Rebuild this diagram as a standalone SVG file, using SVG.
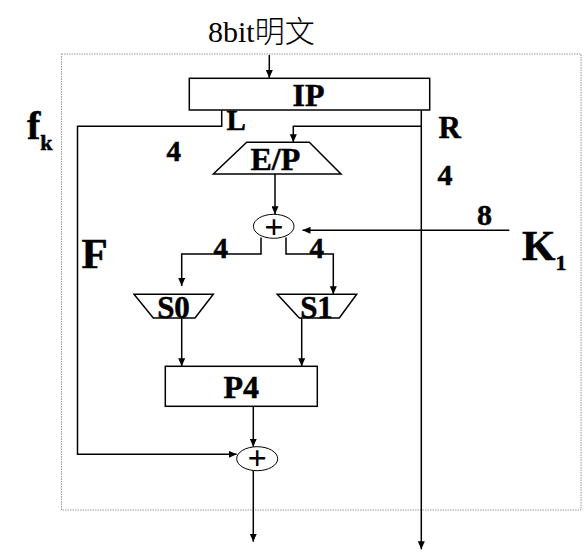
<svg xmlns="http://www.w3.org/2000/svg" width="586" height="559" viewBox="0 0 586 559">
<style>
.t{font-family:"Liberation Serif","Times New Roman",serif;font-weight:bold;fill:#000;stroke:#000;stroke-width:0.5}
.box{fill:#fff;stroke:#000;stroke-width:1.5}
.xor{fill:#fff;stroke:#000;stroke-width:1}
.ln{fill:none;stroke:#000;stroke-width:1.5}
.plus{font-family:"Liberation Serif","Times New Roman",serif;font-weight:bold;font-size:34px;fill:#000}
</style>
<defs>
<marker id="ah" viewBox="0 0 8 7" refX="8" refY="3.5" markerWidth="8" markerHeight="7" markerUnits="userSpaceOnUse" orient="auto">
<path d="M0,0 L8,3.5 L0,7 z" fill="#000"/>
</marker>
</defs>
<rect width="586" height="559" fill="#fff"/>
<g id="frame">
<rect x="61.5" y="54" width="519.5" height="456" fill="none" stroke="#999" stroke-width="1" stroke-dasharray="1.5,1"/>
</g>
<g id="connectors">
<path class="ln" d="M269.3,55 V78" marker-end="url(#ah)"/>
<path class="ln" d="M221.7,110 V126.3 H77.5 V454.3 H236.7" marker-end="url(#ah)"/>
<path class="ln" d="M421.3,110 V549.3" marker-end="url(#ah)"/>
<path class="ln" d="M421.3,126.3 H293.3 V142.3" marker-end="url(#ah)"/>
<path class="ln" d="M275,174 V214.3" marker-end="url(#ah)"/>
<path class="ln" d="M509.3,230.3 H302.5" marker-end="url(#ah)"/>
<path class="ln" d="M261,237.5 V254 H181.7 V286" marker-end="url(#ah)"/>
<path class="ln" d="M286,237.5 V254 H333.3 V294.3" marker-end="url(#ah)"/>
<path class="ln" d="M181.7,318 V366.3" marker-end="url(#ah)"/>
<path class="ln" d="M301.7,318 V366.3" marker-end="url(#ah)"/>
<path class="ln" d="M253.3,406.3 V446.7" marker-end="url(#ah)"/>
<path class="ln" d="M253.3,470.7 V541.7" marker-end="url(#ah)"/>
</g>
<g id="input">
<text x="208" y="41.7" font-family="'Liberation Serif','Noto Sans CJK SC',serif" font-size="30" font-weight="300">8bit明文</text>
</g>
<g id="ip">
<rect class="box" x="189.3" y="78.3" width="240.4" height="31.7"/>
<text class="t" x="308.5" y="106" font-size="32" text-anchor="middle">IP</text>
</g>
<g id="ep">
<path class="box" d="M246.7,142.3 H309.3 L341,174 H213.3 Z" stroke-width="1.2"/>
<text class="t" x="275.3" y="170" font-size="32" text-anchor="middle">E/P</text>
</g>
<g id="xor1">
<ellipse class="xor" cx="273.7" cy="226.3" rx="20.3" ry="12"/>
<text class="plus" x="274" y="238" text-anchor="middle">+</text>
</g>
<g id="s0">
<path class="box" d="M134,294.3 H213.3 L195,318 H153.3 Z" stroke-width="1.2"/>
<text class="t" x="173.5" y="318.3" font-size="31" text-anchor="middle">S0</text>
</g>
<g id="s1">
<path class="box" d="M277.3,294.3 H356.7 L339.3,318 H299.3 Z" stroke-width="1.2"/>
<text class="t" x="316.5" y="318.3" font-size="31" text-anchor="middle">S1</text>
</g>
<g id="p4">
<rect class="box" x="165.3" y="366.3" width="152" height="40"/>
<text class="t" x="241.3" y="398.3" font-size="32" text-anchor="middle">P4</text>
</g>
<g id="xor2">
<ellipse class="xor" cx="257.2" cy="458.7" rx="20.5" ry="12"/>
<text class="plus" x="257.2" y="468.5" text-anchor="middle">+</text>
</g>
<g id="labels">
<text class="t" x="27" y="139" font-size="40">f<tspan font-size="22" dy="11">k</tspan></text>
<text class="t" x="226.5" y="130" font-size="29">L</text>
<text class="t" x="438.5" y="138.3" font-size="31">R</text>
<text class="t" x="166.5" y="161" font-size="29">4</text>
<text class="t" x="437.5" y="185" font-size="30">4</text>
<text class="t" x="477" y="225" font-size="30">8</text>
<text class="t" x="522" y="260" font-size="43">K<tspan font-size="22" dy="10">1</tspan></text>
<text class="t" x="81.5" y="267.7" font-size="43">F</text>
<text class="t" x="213.5" y="258.3" font-size="29">4</text>
<text class="t" x="309.5" y="258.3" font-size="29">4</text>
</g>
</svg>
